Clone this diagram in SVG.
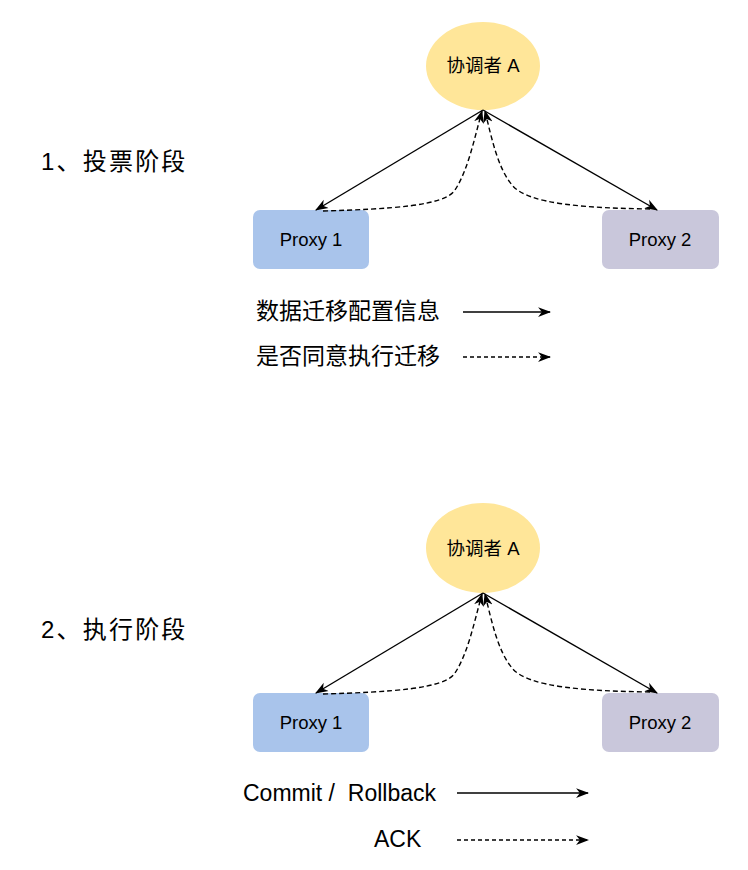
<svg xmlns="http://www.w3.org/2000/svg" width="748" height="870" viewBox="0 0 748 870">
<style>
.cjk{font-family:"Liberation Sans","Noto Sans CJK SC",sans-serif;fill:#000}
.lat{font-family:"Liberation Sans","Noto Sans CJK SC",sans-serif;fill:#000}
.solid{fill:none;stroke:#000;stroke-width:1.4}
.dash{fill:none;stroke:#000;stroke-width:1.4;stroke-dasharray:5 3}
.ldash{fill:none;stroke:#000;stroke-width:1.4;stroke-dasharray:4 3}
</style>
<defs>
<marker id="arr" viewBox="0 0 12 10" refX="11" refY="5" markerWidth="13" markerHeight="11" markerUnits="userSpaceOnUse" orient="auto">
<path d="M0,0.5 L12,5 L0,9.5 L3.5,5 Z" fill="#000"/>
</marker>
</defs>
<rect width="748" height="870" fill="#fff"/>

<text class="cjk" x="41" y="170" font-size="24" letter-spacing="2.2">1、投票阶段</text>
<text class="cjk" x="41" y="638" font-size="24" letter-spacing="2.2">2、执行阶段</text>

<g id="coordA1">
<ellipse cx="483" cy="66" rx="57" ry="44" fill="#FFE699"/>
<text class="cjk" x="483" y="72" font-size="18.5" text-anchor="middle">协调者 A</text>
</g>
<g id="proxy1a">
<rect x="253" y="210" width="116" height="59" rx="7" fill="#A9C4EB"/>
<text class="lat" x="311" y="246" font-size="18.5" text-anchor="middle">Proxy 1</text>
</g>
<g id="proxy2a">
<rect x="602" y="210" width="117" height="59" rx="7" fill="#C9C7DB"/>
<text class="lat" x="660" y="246" font-size="18.5" text-anchor="middle">Proxy 2</text>
</g>

<g id="coordA2">
<ellipse cx="483" cy="548" rx="57" ry="45" fill="#FFE699"/>
<text class="cjk" x="483" y="555" font-size="18.5" text-anchor="middle">协调者 A</text>
</g>
<g id="proxy1b">
<rect x="253" y="693" width="116" height="59" rx="7" fill="#A9C4EB"/>
<text class="lat" x="311" y="729" font-size="18.5" text-anchor="middle">Proxy 1</text>
</g>
<g id="proxy2b">
<rect x="602" y="693" width="117" height="59" rx="7" fill="#C9C7DB"/>
<text class="lat" x="660" y="729" font-size="18.5" text-anchor="middle">Proxy 2</text>
</g>

<g id="connectors">
<path class="solid" d="M483,110 L316,210" marker-end="url(#arr)"/>
<path class="solid" d="M483,110 L657,210" marker-end="url(#arr)"/>
<path class="dash" d="M323,211 C390,209 445,206 455,190 C468,170 474,140 482,111" marker-end="url(#arr)"/>
<path class="dash" d="M650,209 C590,208 528,205 512,185 C498,168 492,140 485,111" marker-end="url(#arr)"/>

<path class="solid" d="M483,593 L316,693" marker-end="url(#arr)"/>
<path class="solid" d="M483,593 L657,693" marker-end="url(#arr)"/>
<path class="dash" d="M323,694 C390,692 445,689 455,673 C468,653 474,623 482,594" marker-end="url(#arr)"/>
<path class="dash" d="M650,692 C590,691 528,688 512,668 C498,651 492,623 485,594" marker-end="url(#arr)"/>

<path class="solid" d="M463,312 L550,312" marker-end="url(#arr)"/>
<path class="ldash" d="M463,357 L550,357" marker-end="url(#arr)"/>
<path class="solid" d="M457,793 L588,793" marker-end="url(#arr)"/>
<path class="ldash" d="M457,840 L588,840" marker-end="url(#arr)"/>
</g>

<g id="legend">
<text class="cjk" x="256" y="319" font-size="23">数据迁移配置信息</text>
<text class="cjk" x="256" y="364" font-size="23">是否同意执行迁移</text>
<text class="lat" x="243" y="801" font-size="23" xml:space="preserve">Commit /  Rollback</text>
<text class="lat" x="374" y="847" font-size="23">ACK</text>
</g>
</svg>
